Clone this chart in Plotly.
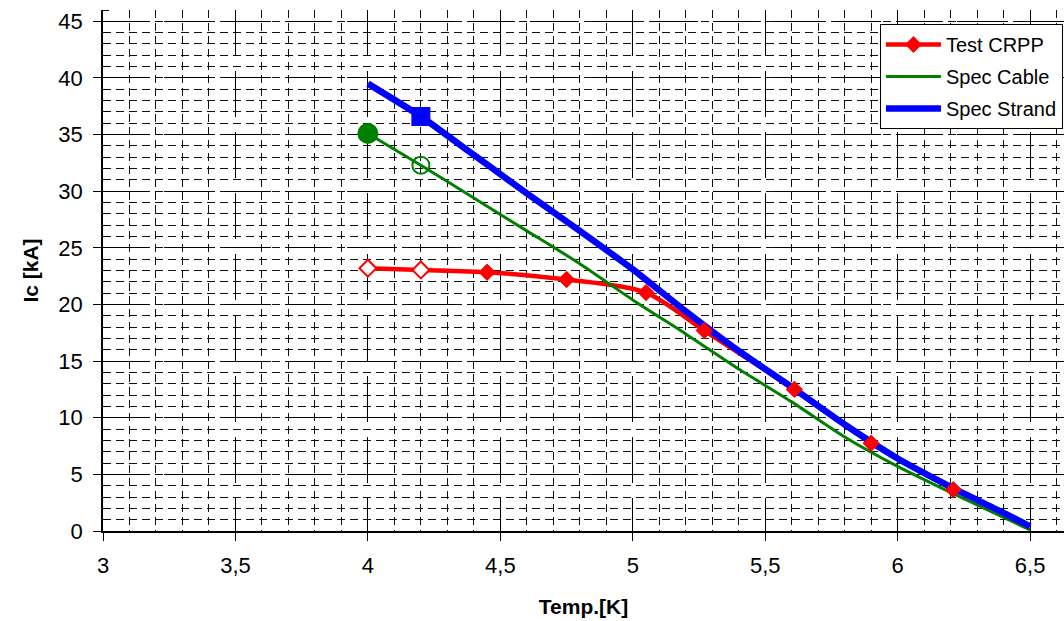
import plotly.graph_objects as go

# Test CRPP (measured)
crpp_T = [4.0, 4.2, 4.45, 4.75, 5.05, 5.27, 5.61, 5.90, 6.21]
crpp_Ic = [23.2, 23.05, 22.85, 22.2, 21.05, 17.7, 12.5, 7.75, 3.65]
crpp_open = [True, True, False, False, False, False, False, False, False]

# Spec Cable
cable_T = [4.0, 4.2, 4.4, 4.6, 4.8, 5.0, 5.2, 5.4, 5.6, 5.8, 6.0, 6.2, 6.4, 6.5]
cable_Ic = [35.1, 32.3, 29.4, 26.5, 23.6, 20.4, 17.4, 14.3, 11.4, 8.3, 5.7, 3.4, 1.2, 0.1]

# Spec Strand
strand_T = [4.0, 4.2, 4.4, 4.6, 4.8, 5.0, 5.2, 5.4, 5.6, 5.8, 6.0, 6.2, 6.4, 6.5]
strand_Ic = [39.5, 36.6, 33.2, 29.8, 26.5, 23.1, 19.4, 15.9, 12.7, 9.4, 6.4, 3.9, 1.6, 0.4]

# highlighted points
cable_mark_T = [4.0, 4.2]
cable_mark_Ic = [35.1, 32.3]
strand_mark_T = [4.2]
strand_mark_Ic = [36.6]

FONT = "Liberation Sans, Arial, sans-serif"
RED, GREEN, BLUE = "#ff0000", "#008000", "#0000ff"

fig = go.Figure()

fig.add_trace(go.Scatter(
    x=crpp_T, y=crpp_Ic, name="Test CRPP", mode="lines+markers",
    line=dict(color=RED, width=4.5, shape="spline", smoothing=0.8),
    marker=dict(symbol="diamond", size=13, color=RED),
    legendgroup="a"))
fig.add_trace(go.Scatter(
    x=cable_T, y=cable_Ic, name="Spec Cable", mode="lines",
    line=dict(color=GREEN, width=3, shape="spline", smoothing=0.6),
    legendgroup="b"))
fig.add_trace(go.Scatter(
    x=strand_T, y=strand_Ic, name="Spec Strand", mode="lines",
    line=dict(color=BLUE, width=6.5, shape="spline", smoothing=0.6),
    legendgroup="c"))

# red markers on top
fig.add_trace(go.Scatter(
    x=crpp_T, y=crpp_Ic, mode="markers", showlegend=False, hoverinfo="skip",
    marker=dict(symbol="diamond", size=13, opacity=1,
                color=["white" if o else RED for o in crpp_open],
                line=dict(color=RED, width=[2 if o else 0 for o in crpp_open]))))
# green markers
fig.add_trace(go.Scatter(
    x=cable_mark_T, y=cable_mark_Ic, mode="markers", showlegend=False, hoverinfo="skip",
    marker=dict(symbol=["circle", "circle-open"], size=[19, 17], color=GREEN, opacity=1,
                line=dict(color=GREEN, width=2))))
# blue square
fig.add_trace(go.Scatter(
    x=strand_mark_T, y=strand_mark_Ic, mode="markers", showlegend=False, hoverinfo="skip",
    marker=dict(symbol="square", size=19, color=BLUE, opacity=1)))

grid_minor = dict(gridcolor="#111", gridwidth=1, griddash="8px,5px")

fig.update_xaxes(
    range=[3, 6.628], dtick=0.5, tick0=3, automargin=False,
    showline=True, linecolor="black", linewidth=1.5,
    ticks="outside", ticklen=8, tickcolor="black", tickwidth=1,
    showgrid=True, gridcolor="black", gridwidth=1, griddash="46px,15px",
    zeroline=False,
    minor=dict(dtick=0.1, showgrid=True, ticks="", **grid_minor),
    tickfont=dict(family=FONT, size=22, color="black"),
    ticklabelstandoff=6,
    title=dict(text="<b>Temp.[K]</b>", font=dict(family=FONT, size=21, color="black"), standoff=22),
)
fig.update_yaxes(
    range=[0, 46], dtick=5, tick0=0, automargin=False,
    showline=True, linecolor="black", linewidth=1.5,
    ticks="outside", ticklen=8, tickcolor="black", tickwidth=1,
    showgrid=True, gridcolor="black", gridwidth=1, griddash="46px,15px",
    zeroline=False,
    minor=dict(dtick=1, showgrid=True, ticks="inside", ticklen=6, tickcolor="black", **grid_minor),
    tickfont=dict(family=FONT, size=22, color="black"),
    ticklabelstandoff=6,
    title=dict(text="<b>Ic [kA]</b>", font=dict(family=FONT, size=21, color="black"), standoff=14),
)

fig.update_layout(
    width=1064, height=621,
    margin=dict(l=103, r=0, t=10, b=90, autoexpand=False),
    paper_bgcolor="white", plot_bgcolor="white",
    separators=", ",
    font=dict(family=FONT, color="black"),
    showlegend=True,
    legend=dict(x=0.8085, y=0.973, xanchor="left", yanchor="top",
                bgcolor="white", bordercolor="black", borderwidth=1,
                font=dict(family=FONT, size=20, color="black"),
                itemwidth=55,
                traceorder="grouped", tracegroupgap=3),
)

fig.write_html("out.html", config={"displayModeBar": False},
               post_script="document.body.style.margin='0px';")
